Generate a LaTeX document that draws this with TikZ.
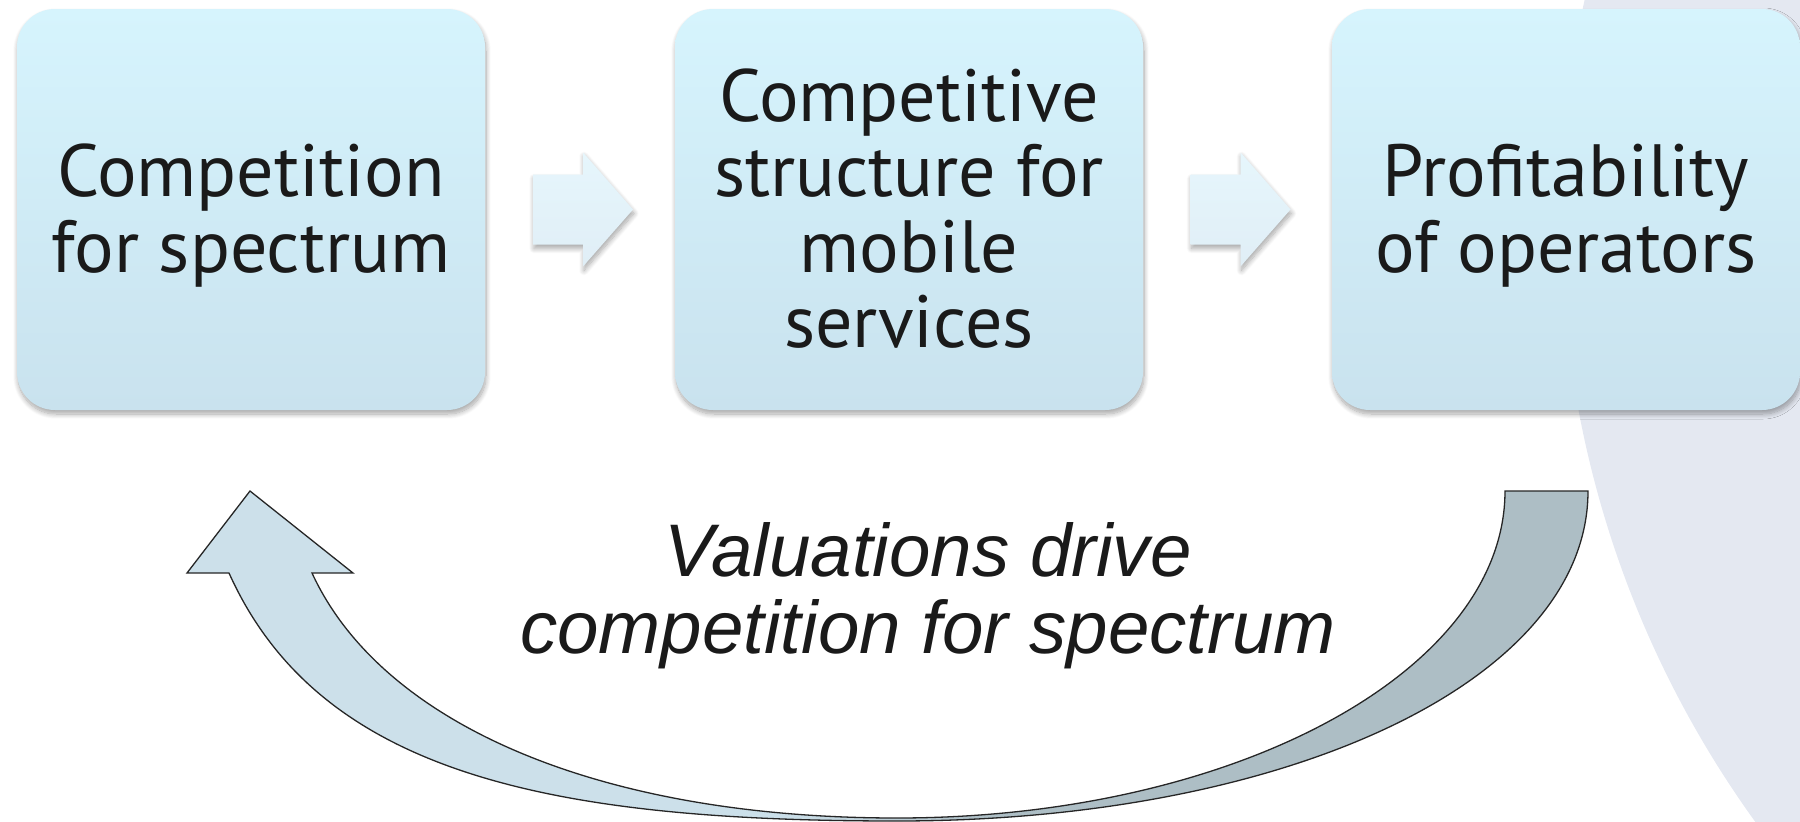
\documentclass[tikz,border=0pt]{standalone}
\usepackage{fontspec}
\setmainfont{PT Sans}
\newfontfamily\captionfont{Liberation Sans}
\usetikzlibrary{shadows.blur,calc}
\definecolor{boxtop}{RGB}{214,244,253}
\definecolor{boxbot}{RGB}{201,226,238}
\definecolor{arrtop}{RGB}{230,246,252}
\definecolor{arrbot}{RGB}{224,238,246}
\definecolor{loopleft}{RGB}{204,224,234}
\definecolor{loopright}{RGB}{173,190,197}
\definecolor{backdisc}{RGB}{228,232,241}
\definecolor{ink}{RGB}{26,26,26}
\pgfdeclarehorizontalshading{loopshade}{100bp}{color(0bp)=(loopleft); color(46bp)=(loopleft); color(54bp)=(loopright); color(100bp)=(loopright)}
\tikzset{
  softshadow/.style={blur shadow={shadow xshift=1pt, shadow yshift=-4pt, shadow blur radius=5pt, shadow blur steps=10, shadow opacity=35}},
  stagebox/.style={rounded corners=38pt, minimum width=468pt, minimum height=401pt,
    top color=boxtop, bottom color=boxbot, draw=none, inner sep=0pt, softshadow},
  stagetext/.style={align=center, text=ink, inner sep=0pt, font=\fontsize{74}{75.5}\selectfont},
  pics/flowarrow/.style={code={
    \path[top color=arrtop, bottom color=arrbot, softshadow]
      (-50,-35) -- (0,-35) -- (0,-57) -- (50,0) -- (0,57) -- (0,35) -- (-50,35) -- cycle;
  }}
}
\begin{document}
\begin{tikzpicture}[x=1pt,y=-1pt]
\useasboundingbox (0,0) rectangle (1800,822);
% background disc on the right
\begin{scope}
  \clip (0,0) rectangle (1800,822);
  \fill[backdisc] (2590,220) circle[radius=1029];
\end{scope}
% the three stages
\node[stagebox] (spectrum) at (251,209.5) {};
\node[stagebox] (structure) at (909,209.5) {};
\node[stagebox] (profit) at (1566,209.5) {};
\node[stagetext] (spectrumtext) at ($(spectrum.center)+(0,6)$) {Competition\\for spectrum};
\node[stagetext] (structuretext) at ($(structure.center)+(0,-1)$) {Competitive\\structure for\\mobile\\services};
\node[stagetext] (profittext) at ($(profit.center)+(0,6)$) {Profitability\\of operators};
% block arrows between the stages
\coordinate (gapA) at ($(spectrum.east)!0.5!(structure.west)+(3,0)$);
\coordinate (gapB) at ($(structure.east)!0.5!(profit.west)+(3,0)$);
\pic at (gapA) {flowarrow};
\pic at (gapB) {flowarrow};
% feedback loop arrow
\shadedraw[shading=loopshade, draw=black!85, line width=1.3pt, line join=miter]
  (1505,491) -- (1588,491)
  .. controls (1588,681) and (1287,821) .. (897,821)
  .. controls (547,821) and (319,773) .. (229,573)
  -- (187,573) -- (250,491) -- (353,573) -- (312,573)
  .. controls (381,723) and (597,818) .. (897,818)
  .. controls (1233,818) and (1505,672) .. (1505,491) -- cycle;
\node[font=\captionfont\itshape\fontsize{74.5}{77}\selectfont, align=center, text=ink,
  anchor=north, inner sep=0pt] (loopnote) at (928,522) {Valuations drive\\competition for spectrum};
\end{tikzpicture}
\end{document}
